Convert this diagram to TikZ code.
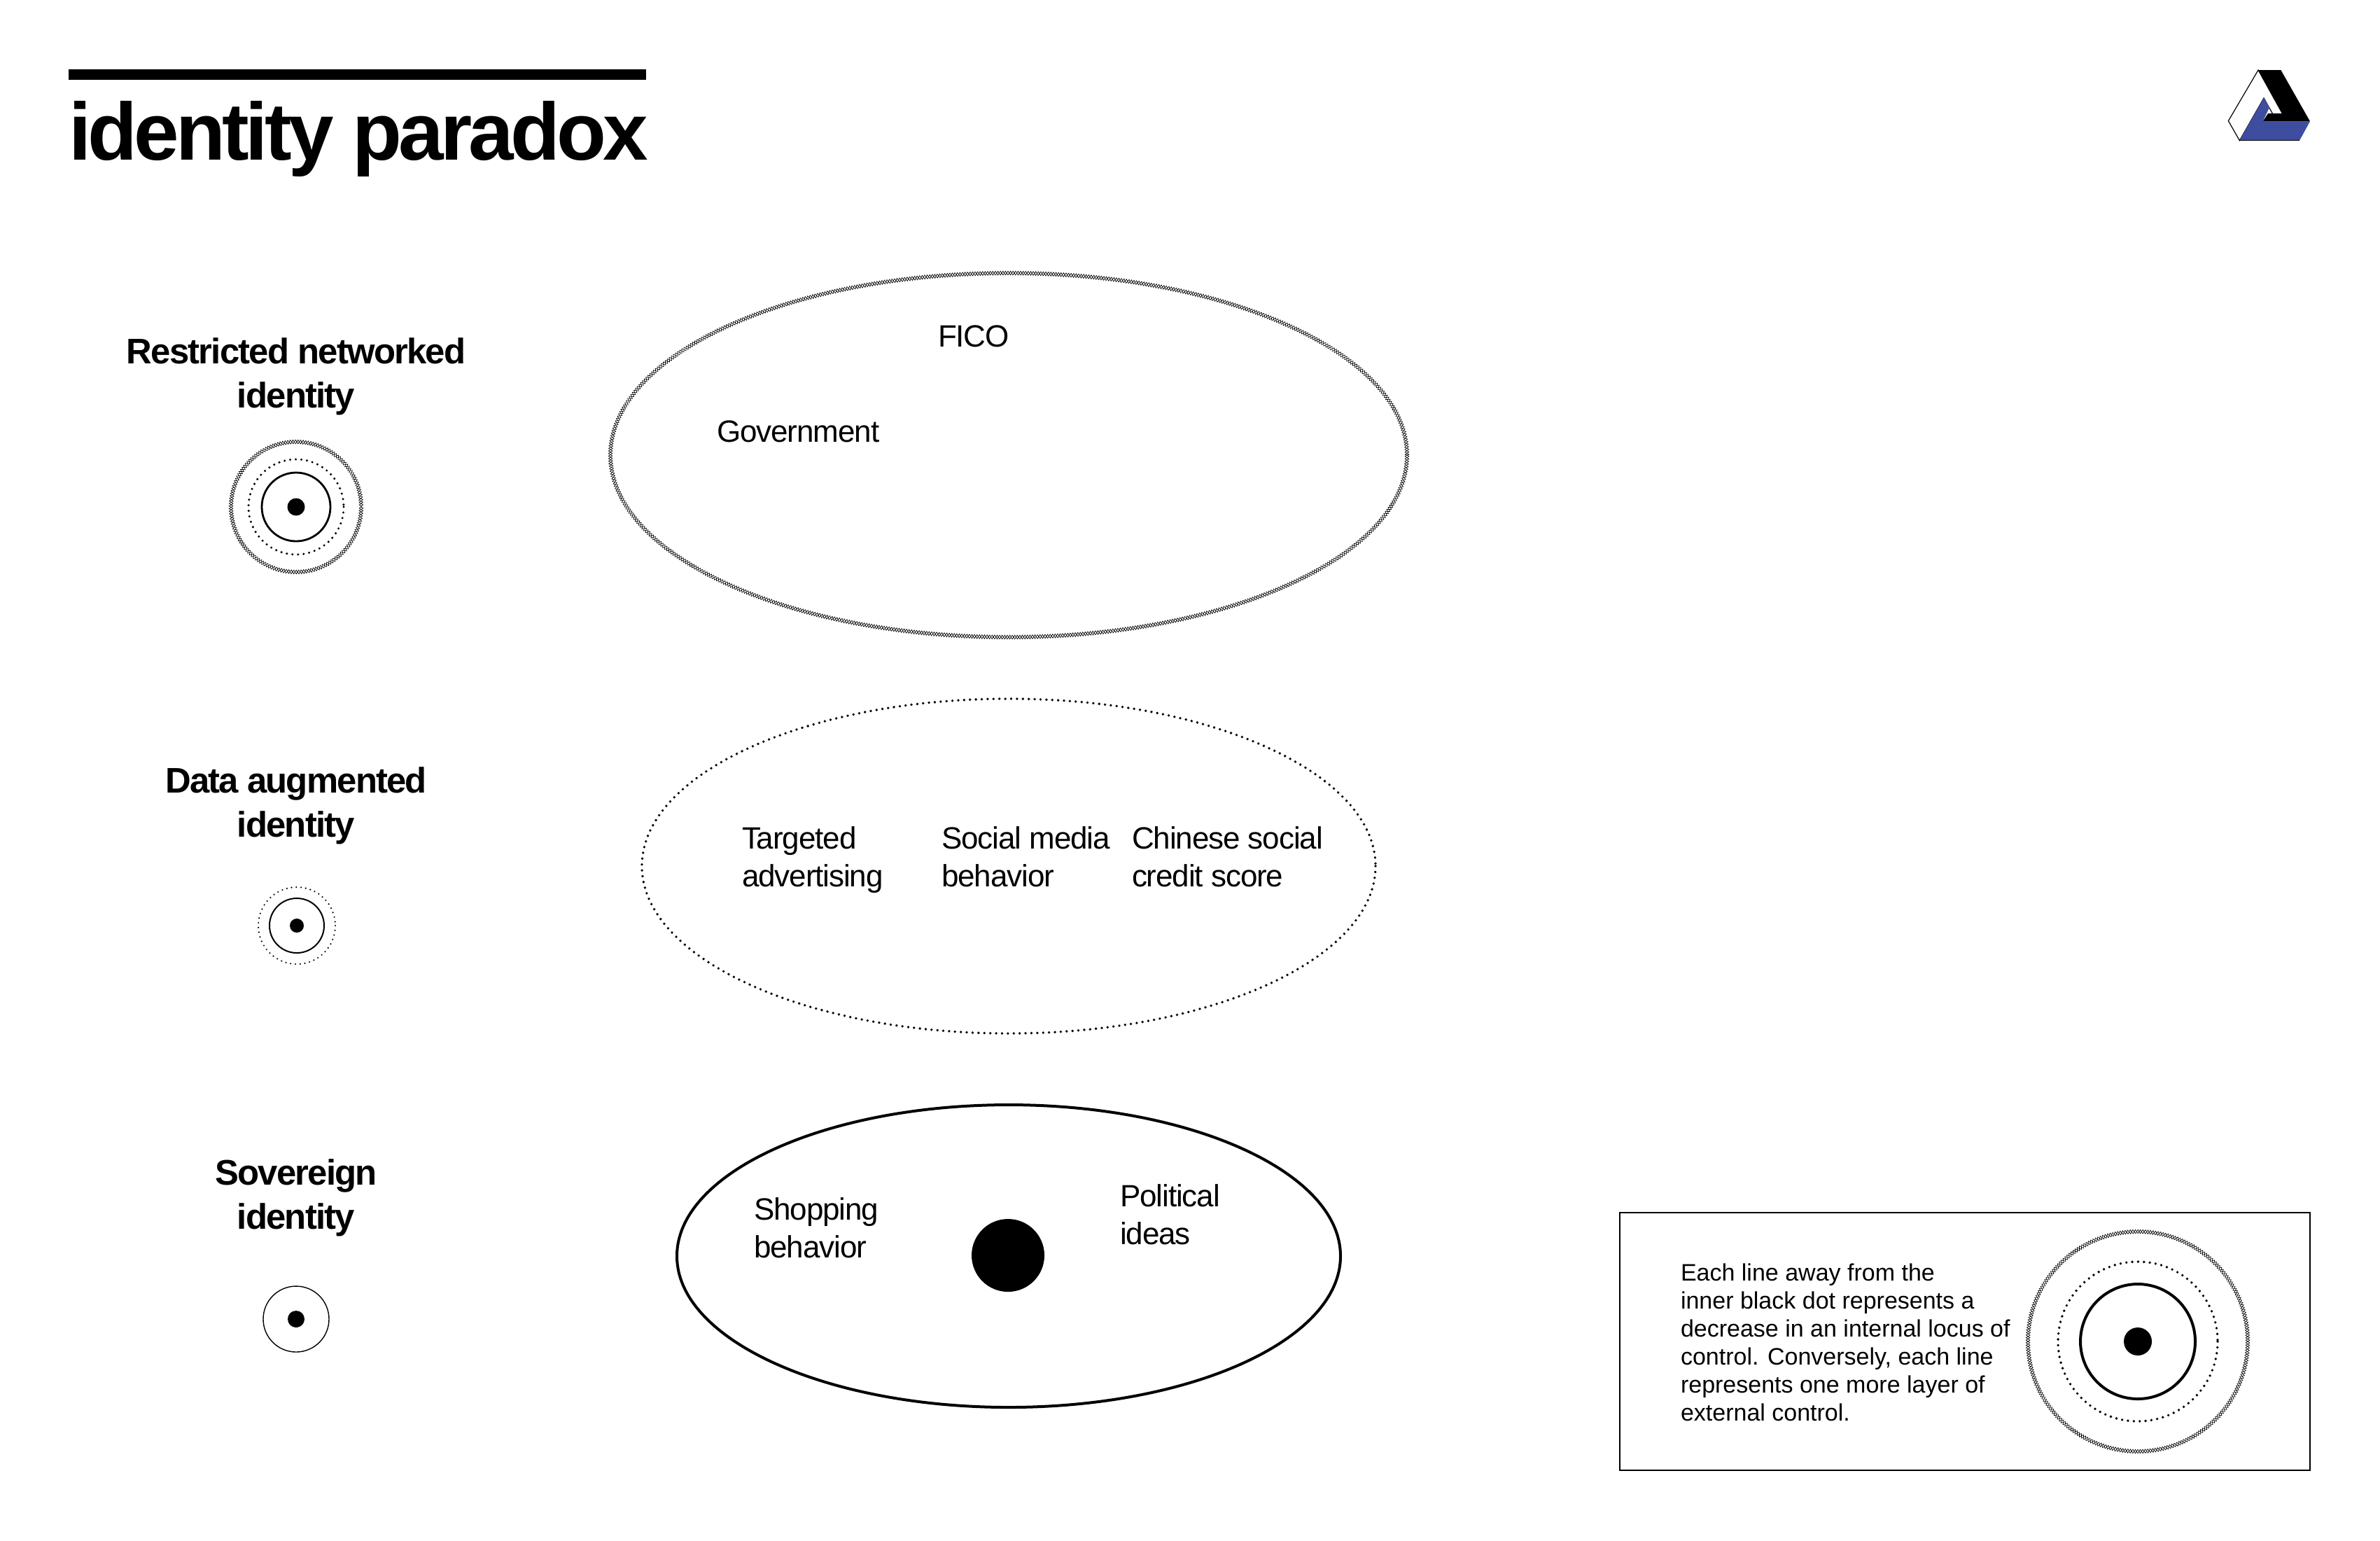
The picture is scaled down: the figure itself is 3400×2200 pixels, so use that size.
\documentclass[tikz,border=0pt]{standalone}
\usepackage{fontspec}
\setmainfont{Liberation Sans}
\newfontfamily\titlefont[LetterSpace=-4.2]{Liberation Sans}
\newfontfamily\headfont[LetterSpace=-3.5]{Liberation Sans}
\newfontfamily\bodyfont[LetterSpace=-2.5]{Liberation Sans}
\newfontfamily\legendfont{Liberation Sans}
\usetikzlibrary{decorations.pathmorphing}
\definecolor{logoblue}{HTML}{3F4DA0}
\tikzset{
  every node/.style={inner sep=0pt,outer sep=0pt},
  heading/.style={align=center,anchor=base,font=\fontsize{12.7}{15.75}\selectfont\bfseries\headfont},
  body/.style={align=left,anchor=base west,font=\fontsize{11}{13.5}\selectfont\bodyfont},
  legendtext/.style={align=left,anchor=base west,font=\fontsize{8.5}{10}\selectfont\legendfont},
  chainA/.style={draw=black,line width=0.17pt,decorate,decoration={zigzag,segment length=1.8pt,amplitude=0.7pt}},
  chainB/.style={draw=black,line width=0.17pt,decorate,decoration={zigzag,segment length=1.8pt,amplitude=0.7pt,mirror}},
  dotline/.style={draw=black,line width=0.95pt,line cap=round,dash pattern=on 0pt off 2.1pt},
  dotsmall/.style={draw=black,line width=0.85pt,line cap=round,dash pattern=on 0pt off 2pt},
  solidline/.style={draw=black,line width=0.7pt},
  core/.style={fill=black,draw=none}
}
\begin{document}
\begin{tikzpicture}[x=0.25pt,y=-0.25pt]
\useasboundingbox (0,0) rectangle (3400,2200);
\fill[white] (0,0) rectangle (3400,2200);
% title
\fill[black] (98,99) rectangle (923,114);
\node[anchor=base west,font=\fontsize{29}{30}\selectfont\bfseries\titlefont] (title) at (98,228) {identity paradox};
% logo
\begin{scope}[shift={(3150,70)},x=0.0833333pt,y=-0.0833333pt]
\draw[black,line width=0.3pt,fill=white] (228,90) -- (100,308) -- (148,392) -- (252,210) -- (290,278) -- (332,278) -- cycle;
\fill[logoblue] (148,392) -- (252,210) -- (276,250) -- (248,310) -- (450,310) -- (405,392) -- cycle;
\draw[black,line width=0.4pt] (148,392) -- (405,392);
\fill[black] (228,90) -- (325,90) -- (450,310) -- (248,310) -- (270,276) -- (332,276) -- cycle;
\end{scope}
% headings
\node[heading] (h1) at (423,582) {Restricted networked\\identity};
\node[heading] (h2) at (423,1195) {Data augmented\\identity};
\node[heading] (h3) at (423,1755) {Sovereign\\identity};
% symbol 1
\draw[chainA] (423,724) circle [radius=93];
\draw[chainB] (423,724) circle [radius=93];
\draw[dotsmall] (423,724) circle [radius=68];
\draw[solidline] (423,724) circle [radius=49];
\fill[core] (423,724) circle [radius=12.5];
% symbol 2
\draw[dotsmall,line width=0.6pt,dash pattern=on 0pt off 1.7pt] (424,1322) circle [radius=55];
\draw[solidline,line width=0.5pt] (424,1322) circle [radius=39];
\fill[core] (424,1322) circle [radius=10];
% symbol 3
\draw[solidline,line width=0.35pt] (423,1884) circle [radius=47];
\fill[core] (423,1884) circle [radius=12];
% ellipses
\draw[chainA] (1441,650) ellipse [x radius=569,y radius=260];
\draw[chainB] (1441,650) ellipse [x radius=569,y radius=260];
\draw[dotline] (1441,1237) ellipse [x radius=524,y radius=239];
\draw[solidline,line width=1pt] (1441,1794) ellipse [x radius=474,y radius=216];
\fill[core] (1440,1793) circle [radius=52];
% ellipse labels
\node[body] (fico) at (1340,495) {FICO};
\node[body] (gov) at (1024,631) {Government};
\node[body] (target) at (1060,1266) {Targeted\\advertising};
\node[body] (social) at (1345,1266) {Social media\\behavior};
\node[body] (credit) at (1617,1266) {Chinese social\\credit score};
\node[body] (shop) at (1077,1796) {Shopping\\behavior};
\node[body] (pol) at (1600,1777) {Political\\ideas};
% legend
\draw[black,line width=0.35pt] (2314,1732) rectangle (3300,2100);
\node[legendtext] (legend) at (2401,2029) {Each line away from the\\inner black dot represents a\\decrease in an internal locus of\\control. Conversely, each line\\represents one more layer of\\external control.};
\draw[chainA] (3054,1916) circle [radius=157];
\draw[chainB] (3054,1916) circle [radius=157];
\draw[dotline] (3054,1916) circle [radius=114];
\draw[solidline,line width=1pt] (3054,1916) circle [radius=82];
\fill[core] (3054,1916) circle [radius=20];
\end{tikzpicture}
\end{document}
